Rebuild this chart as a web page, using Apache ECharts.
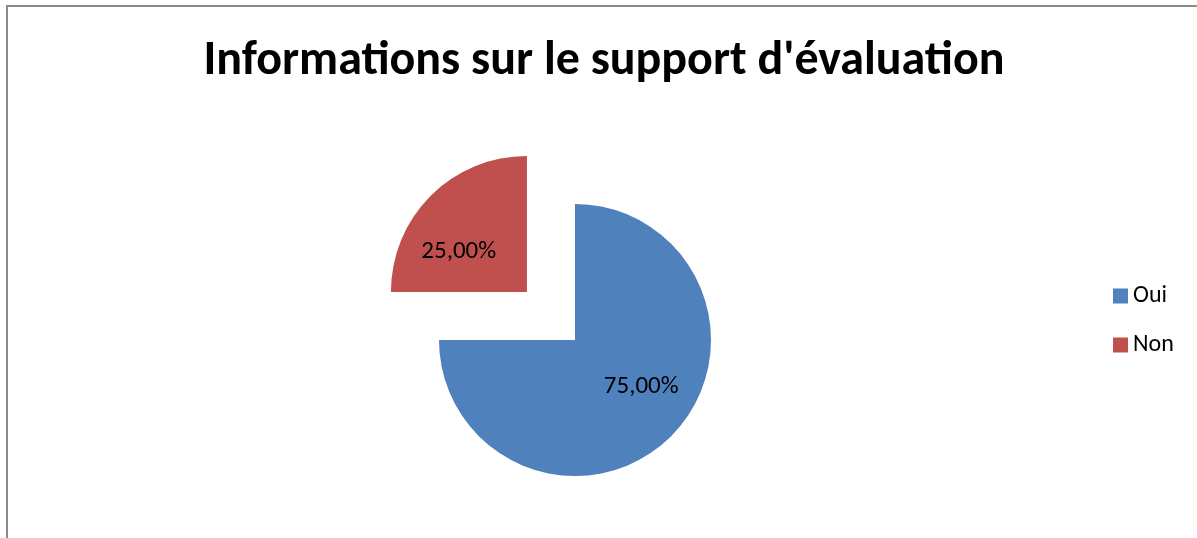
<!DOCTYPE html>
<html>
<head>
<meta charset="utf-8">
<script src="https://cdn.jsdelivr.net/npm/echarts@6/dist/echarts.min.js"></script>
<style>
html,body{margin:0;padding:0;background:#fff;}
#chart{width:1197px;height:538px;}
</style>
</head>
<body>
<div id="chart"></div>
<script>
const titleText = "Informations sur le support d'évaluation";
const categories = ["Oui", "Non"];
const values = [75, 25];
const colors = ["#4F81BD", "#C0504D"];
const explodedCategory = "Non";

const FONT = "Carlito, Calibri, 'Open Sans', sans-serif";

const chart = echarts.init(document.getElementById('chart'), null, {renderer: 'canvas'});
const labelShift = [[16, -3], [-18, 10]];
chart.setOption({
  animation: false,
  backgroundColor: '#ffffff',
  title: {
    text: titleText,
    left: 599, textAlign: 'center',
    top: 33,
    textStyle: {fontFamily: FONT, fontWeight: 'bold', fontSize: 48, color: '#000'}
  },
  graphic: [{
    type: 'rect', silent: true, z: -1,
    shape: {x: 7, y: 6, width: 1400, height: 800},
    style: {fill: 'none', stroke: '#8c8c8c', lineWidth: 2}
  }],
  legend: {
    orient: 'vertical',
    left: 1108, top: 279,
    itemWidth: 15, itemHeight: 15, itemGap: 25,
    icon: 'rect',
    selectedMode: false,
    textStyle: {fontFamily: FONT, fontSize: 24, color: '#000'},
    data: categories
  },
  series: [{
    type: 'pie',
    center: [575, 340],
    radius: 136,
    startAngle: 90,
    clockwise: true,
    selectedMode: 'multiple',
    selectedOffset: 68,
    avoidLabelOverlap: false,
    emphasis: {disabled: true},
    itemStyle: {borderWidth: 0},
    label: {
      show: true, position: 'inside',
      fontFamily: FONT, fontSize: 25, color: '#000',
      formatter: p => p.value.toFixed(2).replace('.', ',') + '%'
    },
    labelLine: {show: false},
    labelLayout: p => ({dx: labelShift[p.dataIndex][0], dy: labelShift[p.dataIndex][1]}),
    data: categories.map((c, i) => ({
      name: c, value: values[i],
      selected: c === explodedCategory,
      itemStyle: {color: colors[i]}
    }))
  }]
});
</script>
</body>
</html>
